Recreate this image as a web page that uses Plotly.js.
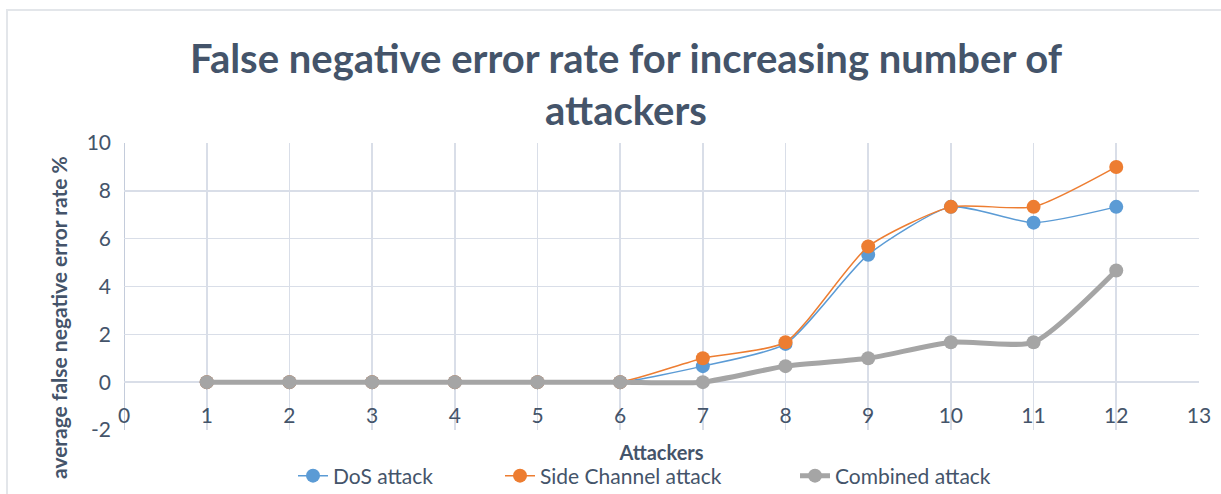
<!DOCTYPE html>
<html>
<head>
<meta charset="utf-8">
<script src="https://cdn.plot.ly/plotly-3.0.1.min.js"></script>
<style>
html,body{margin:0;padding:0;background:#fff;}
#chart{width:1221px;height:494px;}
</style>
</head>
<body>
<div id="chart"></div>
<script>
const attackers = [1,2,3,4,5,6,7,8,9,10,11,12];
const dosAttack = [0,0,0,0,0,0,0.67,1.6,5.33,7.33,6.67,7.33];
const sideChannelAttack = [0,0,0,0,0,0,1.0,1.67,5.67,7.33,7.33,9.0];
const combinedAttack = [0,0,0,0,0,0,0,0.67,1.0,1.67,1.67,4.67];
const xTicks = [0,1,2,3,4,5,6,7,8,9,10,11,12,13];
const yTicks = [-2,0,2,4,6,8,10];

const txt = '#44546A';
const font = 'Lato, "Open Sans", sans-serif';

const L = 124, R = 1199, T = 143, B = 430;
const pw = R - L, ph = B - T;
const px = v => (v - L) / pw;
const py = v => (B - v) / ph;

const traces = [
  {x: attackers, y: dosAttack, name: 'DoS attack', mode: 'lines+markers', legend: 'legend',
   line: {color: '#5B9BD5', width: 1.5, shape: 'spline', smoothing: 0.6},
   marker: {color: '#5B9BD5', size: 14}},
  {x: attackers, y: sideChannelAttack, name: 'Side Channel attack', mode: 'lines+markers', legend: 'legend2',
   line: {color: '#ED7D31', width: 1.5, shape: 'spline', smoothing: 0.6},
   marker: {color: '#ED7D31', size: 14}},
  {x: attackers, y: combinedAttack, name: 'Combined attack', mode: 'lines+markers', legend: 'legend3',
   line: {color: '#A5A5A5', width: 5, shape: 'spline', smoothing: 0.6},
   marker: {color: '#A5A5A5', size: 14}}
];

const legFont = {size: 21, color: txt, family: font};
const mkLeg = (textStart) => ({orientation: 'h', x: px(textStart - 43), xanchor: 'left',
  y: py(476), yanchor: 'middle', font: legFont, bgcolor: 'rgba(0,0,0,0)'});

const layout = {
  width: 1221, height: 494,
  margin: {l: L, r: 1221 - R, t: T, b: 494 - B, pad: 0, autoexpand: false},
  paper_bgcolor: '#fff', plot_bgcolor: '#fff',
  font: {family: font, color: txt},
  showlegend: true,
  legend: mkLeg(336),
  legend2: mkLeg(543),
  legend3: mkLeg(838),
  title: {text: '<b>False negative error rate for increasing number of<br>attackers</b>',
          font: {size: 40, color: txt, family: font}, x: 626/1221, xref: 'container', xanchor: 'center',
          y: 1 - 73/494, yanchor: 'middle'},
  xaxis: {range: [-0.001, 13.001], tickvals: xTicks, ticktext: xTicks.map(String),
          showgrid: true, gridcolor: '#D9DEE8', gridwidth: 1.5, automargin: false,
          zeroline: false, showline: false,
          ticklabelposition: 'inside', ticklabeloverflow: 'allow', ticks: '', tickfont: {size: 21, color: txt},
          title: {text: '<b>Attackers</b>', font: {size: 20, color: txt}, standoff: 20}},
  yaxis: {range: [-2.001, 10.001], tickvals: yTicks, ticktext: yTicks.map(String),
          showgrid: true, gridcolor: '#D9DEE8', gridwidth: 1.5,
          zeroline: false, showline: false, ticks: '', tickfont: {size: 21, color: txt},
          automargin: false, ticklabelstandoff: 12, ticklabeloverflow: 'allow'},
  shapes: [
    {type: 'line', xref: 'x', yref: 'y', x0: 0, x1: 13, y0: 0, y1: 0, line: {color: '#B8C2D4', width: 1.5}, layer: 'below'},
    {type: 'line', xref: 'x', yref: 'paper', x0: 0, x1: 0, y0: 0, y1: 1, line: {color: '#B8C2D4', width: 1.5}, layer: 'below'},
    {type: 'rect', xref: 'paper', yref: 'paper', x0: px(7), x1: px(1230), y0: py(500), y1: py(10),
     line: {color: '#E3E6EA', width: 2}, fillcolor: 'rgba(0,0,0,0)', layer: 'below'}
  ],
  annotations: [
    {text: '<b>average false negative error rate %</b>', textangle: -90,
     xref: 'paper', yref: 'paper', x: px(58), y: py(318), xanchor: 'center', yanchor: 'middle',
     showarrow: false, font: {size: 21, color: txt, family: font}}
  ]
};

Plotly.newPlot('chart', traces, layout, {displayModeBar: false, staticPlot: true});
</script>
</body>
</html>
